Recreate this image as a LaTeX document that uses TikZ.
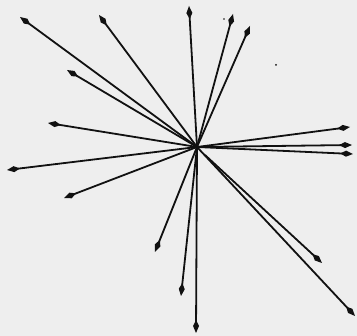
\documentclass[tikz,border=0pt]{standalone}
\usetikzlibrary{arrows.meta}
\definecolor{bg}{HTML}{EEEEEE}
\definecolor{ink}{HTML}{111111}
\tikzset{
  ray/.style={draw=ink, line width=1.8pt, -{Kite[length=13pt,width=6pt,inset=6pt]}},
  speck/.style={fill=ink, draw=none}
}
\begin{document}
\begin{tikzpicture}[x=1pt,y=-1pt]
\fill[bg] (0,0) rectangle (357,336);
\useasboundingbox (0,0) rectangle (357,336);
\coordinate (c) at (197,147);
\coordinate (c2) at (205,155);
\coordinate (t1) at (20,17);
\coordinate (t2) at (99,15);
\coordinate (t3) at (67,70);
\coordinate (t4) at (48,123);
\coordinate (t5) at (7,170);
\coordinate (t6) at (64,198);
\coordinate (t7) at (155,252);
\coordinate (t8) at (181,296);
\coordinate (t9) at (196,333);
\coordinate (t10) at (322,263);
\coordinate (t11) at (355,316);
\coordinate (t12) at (353,154);
\coordinate (t13) at (352,145);
\coordinate (t14) at (350,127);
\coordinate (t15) at (250,26);
\coordinate (t16) at (233,14);
\coordinate (t17) at (189,6);
\foreach \i in {1,...,9,11,12,13,14,15,16,17} \draw[ray] (c) -- (t\i);
\draw[ray] (c2) -- (t10);
\fill[speck] (224,19) circle (0.8);
\fill[speck] (276,65) circle (1);
\end{tikzpicture}
\end{document}
